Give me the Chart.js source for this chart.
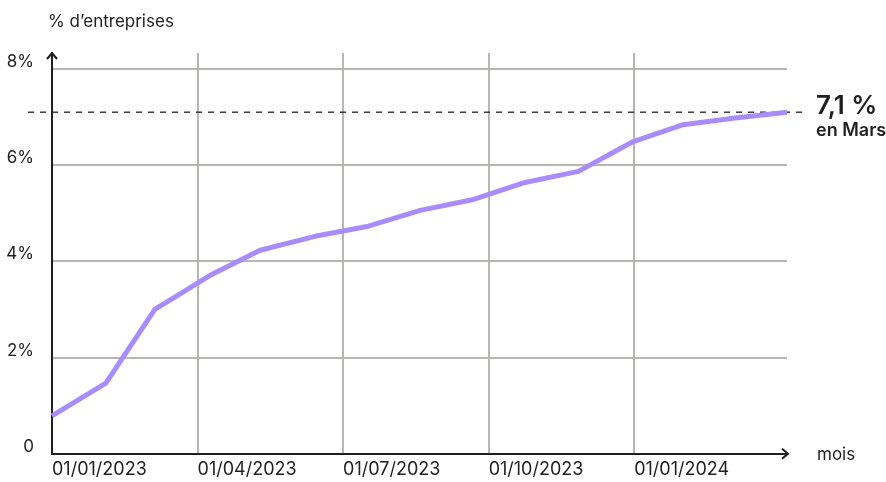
<!DOCTYPE html>
<html>
<head>
<meta charset="utf-8">
<script src="https://cdn.jsdelivr.net/npm/chart.js@4"></script>
<style>
    html, body { margin: 0; padding: 0; background: #fff; }
    #wrap { width: 886px; height: 482px; }
</style>
</head>
<body>
<div id="wrap"><canvas id="myChart" width="886" height="482"></canvas></div>
<script>
/* données */
let mois = [0, 1.11, 2.12, 3.26, 4.29, 5.42, 6.52, 7.59, 8.66, 9.75, 10.85, 11.98, 13.01, 14.08, 15.15];
let valeurs = [0.79, 1.47, 3.0, 3.71, 4.23, 4.52, 4.73, 5.06, 5.28, 5.64, 5.87, 6.49, 6.84, 6.98, 7.1];
let dateTicks = [0, 3, 6, 9, 12];
let dateLabels = ['01/01/2023', '01/04/2023', '01/07/2023', '01/10/2023', '01/01/2024'];
let pctTicks = [0, 2, 4, 6, 8];
let derniere = 7.1;

let points = [];
for (let i = 0; i < mois.length; i++) {
    points.push({ x: mois[i], y: valeurs[i] });
}

let FONT = 'Inter, "Noto Sans", sans-serif';
let INK = '#1f1f1f';

/* flèches, ligne pointillée, textes */
let decor = {
    id: 'decor',
    beforeDatasetsDraw: function (chart) {
        let ctx = chart.ctx;
        let y = chart.scales.y.getPixelForValue(derniere);
        ctx.save();
        ctx.strokeStyle = INK;
        ctx.lineWidth = 1.3;
        ctx.setLineDash([6, 6]);
        ctx.beginPath();
        ctx.moveTo(28, y);
        ctx.lineTo(805, y);
        ctx.stroke();
        ctx.restore();
    },
    afterDraw: function (chart) {
        let ctx = chart.ctx;
        let a = chart.chartArea;
        let yLast = chart.scales.y.getPixelForValue(derniere);
        ctx.save();
        ctx.strokeStyle = INK;
        ctx.lineWidth = 2;
        // flèche axe y
        ctx.beginPath();
        ctx.moveTo(a.left - 5, a.top + 6);
        ctx.lineTo(a.left, a.top);
        ctx.lineTo(a.left + 5, a.top + 6);
        ctx.stroke();
        // flèche axe x
        ctx.beginPath();
        ctx.moveTo(a.right - 5, a.bottom - 5);
        ctx.lineTo(a.right + 1, a.bottom);
        ctx.lineTo(a.right - 5, a.bottom + 5);
        ctx.stroke();

        ctx.fillStyle = INK;
        ctx.textBaseline = 'alphabetic';
        ctx.textAlign = 'left';
        ctx.font = '17px ' + FONT;
        ctx.fillText('% d\u2019entreprises', 48, 27);
        ctx.fillText('mois', 817, 460);

        ctx.font = '600 26px ' + FONT;
        ctx.fillText('7,1 %', 816, yLast + 2);
        ctx.font = '600 18px ' + FONT;
        ctx.fillText('en Mars', 816, yLast + 24);
        ctx.restore();
    }
};

let ctx = document.getElementById('myChart').getContext('2d');

let myChart = new Chart(ctx, {
    type: 'line',
    data: {
        datasets: [{
            label: '% d\u2019entreprises',
            data: points,
            borderColor: '#a98cfb',
            borderWidth: 5,
            pointRadius: 0,
            tension: 0,
            clip: false,
            borderJoinStyle: 'round'
        }]
    },
    options: {
        responsive: false,
        animation: false,
        layout: {
            padding: { top: 53, right: 99, left: 0, bottom: 0 }
        },
        plugins: {
            legend: { display: false },
            tooltip: { enabled: false }
        },
        scales: {
            x: {
                type: 'linear',
                min: 0,
                max: 15.15,
                afterBuildTicks: function (scale) {
                    scale.ticks = dateTicks.map(function (v) { return { value: v }; });
                },
                afterFit: function (scale) {
                    scale.height = 27;
                },
                ticks: {
                    align: 'start',
                    padding: 5,
                    maxRotation: 0,
                    color: INK,
                    font: { family: FONT, size: 18 },
                    callback: function (value) {
                        let i = dateTicks.indexOf(value);
                        return i >= 0 ? dateLabels[i] : '';
                    }
                },
                grid: { color: '#b6b6b2', lineWidth: 2, drawTicks: false },
                border: { color: INK, width: 2 }
            },
            y: {
                min: 0,
                max: 8.33,
                afterBuildTicks: function (scale) {
                    scale.ticks = pctTicks.map(function (v) { return { value: v }; });
                },
                afterFit: function (scale) {
                    scale.width = 52;
                },
                ticks: {
                    padding: 18,
                    labelOffset: -7,
                    color: INK,
                    font: { family: FONT, size: 17 },
                    callback: function (value) {
                        return value === 0 ? '0' : value + '%';
                    }
                },
                grid: { color: '#b6b6b2', lineWidth: 2, drawTicks: false },
                border: { color: INK, width: 2 }
            }
        }
    },
    plugins: [decor]
});
</script>
</body>
</html>
